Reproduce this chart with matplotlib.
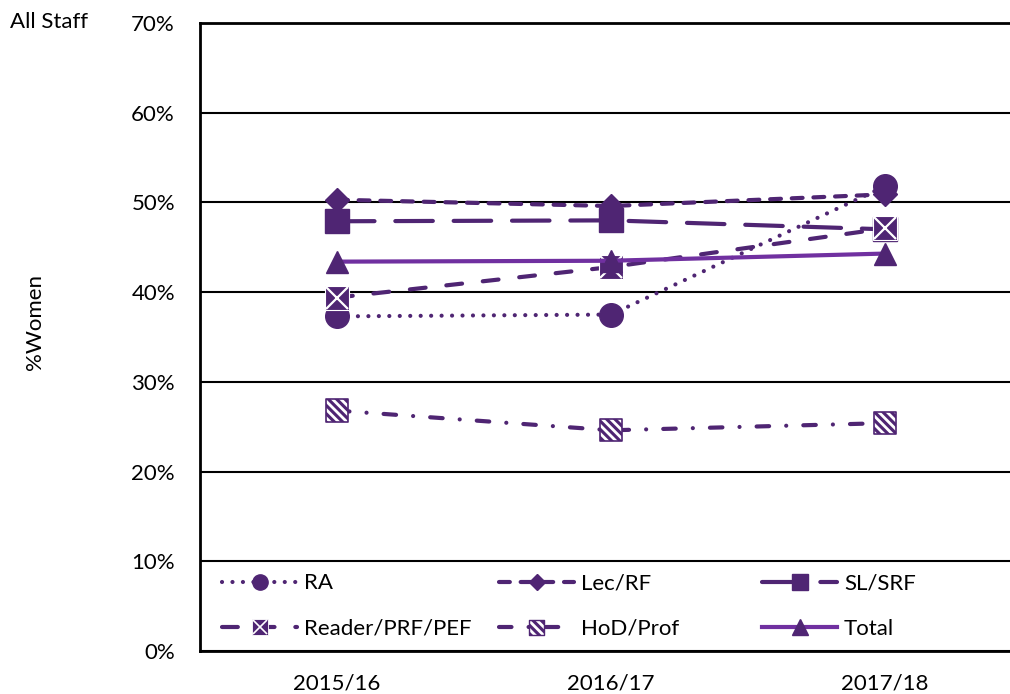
import matplotlib
matplotlib.use('Agg')
import matplotlib.pyplot as plt
from matplotlib.lines import Line2D
from matplotlib.legend import Legend
from matplotlib.legend_handler import HandlerTuple
from matplotlib.ticker import FuncFormatter

# Données (% de femmes)
years = ['2015/16', '2016/17', '2017/18']
ra = [37.3, 37.5, 51.8]
lec_rf = [50.3, 49.6, 50.9]
sl_srf = [47.9, 48.0, 47.0]
reader = [39.4, 42.8, 47.1]
hod_prof = [26.8, 24.6, 25.4]
total = [43.4, 43.5, 44.3]
y_ticks = [0, 10, 20, 30, 40, 50, 60, 70]

dark = '#4F2573'
light = '#7030A0'
fs = 16

plt.rcParams['font.family'] = ['Lato', 'DejaVu Sans']
plt.rcParams['hatch.color'] = 'white'
plt.rcParams['hatch.linewidth'] = 2.0

fig = plt.figure(figsize=(10.1, 6.94), dpi=100)
ax = fig.add_axes([200 / 1010, 1 - 651 / 694, 822 / 1010, 628 / 694])

x = list(range(len(years)))
lw = 3

styles = {
    'ra': (0, (0.01, 2.5)),
    'lec': (0, (2.6, 2.6)),
    'sl': (0, (9, 5)),
    'reader': (0, (3.8, 5)),
    'hod': (0, (3, 4.1, 0.01, 4.1)),
}

# Séries
ax.plot(x, ra, color=dark, lw=lw, ls=styles['ra'], dash_capstyle='round',
        marker='o', ms=17, mec=dark, mfc=dark, zorder=3)
ax.plot(x, lec_rf, color=dark, lw=lw, ls=styles['lec'], dash_capstyle='round',
        marker='D', ms=12, mec=dark, mfc=dark, zorder=3)
ax.plot(x, sl_srf, color=dark, lw=lw, ls=styles['sl'], dash_capstyle='round',
        marker='s', ms=17, mec=dark, mfc=dark, zorder=3)
ax.plot(x, reader, color=dark, lw=lw, ls=styles['reader'], dash_capstyle='round',
        marker='s', ms=17, mec='white', mew=0.8, mfc=dark, zorder=4)
ax.plot(x, reader, ls='none', marker='x', ms=16, mec='white', mew=1.6, zorder=4)
ax.plot(x, hod_prof, color=dark, lw=lw, ls=styles['hod'], dash_capstyle='round', zorder=3)
ax.scatter(x, hod_prof, marker='s', s=16 ** 2, facecolor=dark, edgecolor='white',
           hatch='\\\\\\\\', linewidth=0, zorder=4)
ax.scatter(x, hod_prof, marker='s', s=16 ** 2, facecolor='none', edgecolor=dark,
           linewidth=1.2, zorder=4)
ax.plot(x, total, color=light, lw=lw, solid_capstyle='round', zorder=5)
ax.plot(x, total, ls='none', marker='^', ms=16, mec=dark, mfc=dark, zorder=5)

# Axes
ax.set_xlim(-0.5, 2.5)
ax.set_ylim(0, 70)
ax.set_xticks(x)
ax.set_xticklabels(years)
ax.set_yticks(y_ticks)
ax.yaxis.set_major_formatter(FuncFormatter(lambda v, p: f'{v:.0f}%'))
ax.tick_params(axis='both', length=0, labelsize=fs, colors='black')
ax.tick_params(axis='y', pad=18)
ax.tick_params(axis='x', pad=16)
ax.grid(axis='y', color='black', lw=1.5)
ax.set_axisbelow(True)
for side in ['left', 'top', 'bottom']:
    ax.spines[side].set_linewidth(2)
ax.spines['right'].set_visible(False)

fig.text(35 / 1010, 1 - 322 / 694, '%Women', rotation=90, fontsize=fs,
         ha='center', va='center')
fig.text(10 / 1010, 1 - 22 / 694, 'All Staff', fontsize=fs, ha='left', va='center')

# Légende (trois colonnes)
def proxy_line(ls, color=dark, **kw):
    return Line2D([], [], color=color, lw=lw, ls=ls, dash_capstyle='round', **kw)

h_ra = proxy_line(styles['ra'], marker='o', ms=11, mfc=dark, mec=dark)
h_lec = proxy_line(styles['lec'], marker='D', ms=8, mfc=dark, mec=dark)
h_sl = proxy_line(styles['sl'], marker='s', ms=12, mfc=dark, mec=dark)
h_reader = (proxy_line(styles['reader'], marker='s', ms=11, mfc=dark, mec='white', mew=0.6),
            Line2D([], [], ls='none', marker='x', ms=10, mec='white', mew=1.2))
hod_fill = ax.scatter([], [], marker='s', s=11 ** 2, facecolor=dark, edgecolor='white',
                      hatch='\\\\\\\\', linewidth=0)
hod_edge = ax.scatter([], [], marker='s', s=11 ** 2, facecolor='none', edgecolor=dark,
                      linewidth=1)
h_hod = (proxy_line(styles['hod']), hod_fill, hod_edge)
h_total = (proxy_line('-', color=light),
           Line2D([], [], ls='none', marker='^', ms=11, mfc=dark, mec=dark))

columns = [
    ([h_ra, h_reader], ['RA', 'Reader/PRF/PEF'], 213),
    ([h_lec, h_hod], ['Lec/RF', 'HoD/Prof'], 490),
    ([h_sl, h_total], ['SL/SRF', 'Total'], 753),
]
for handles, labels, px in columns:
    leg = Legend(ax, handles, labels, loc='lower left',
                 bbox_to_anchor=((px - 200) / 822, 0.005),
                 frameon=False, fontsize=fs, handlelength=3.4, handletextpad=0.3,
                 labelspacing=1.15, borderaxespad=0, numpoints=1,
                 scatterpoints=1, scatteryoffsets=[0.5],
                 handler_map={tuple: HandlerTuple(ndivide=1)})
    ax.add_artist(leg)

fig.savefig('out.png', dpi=100)
